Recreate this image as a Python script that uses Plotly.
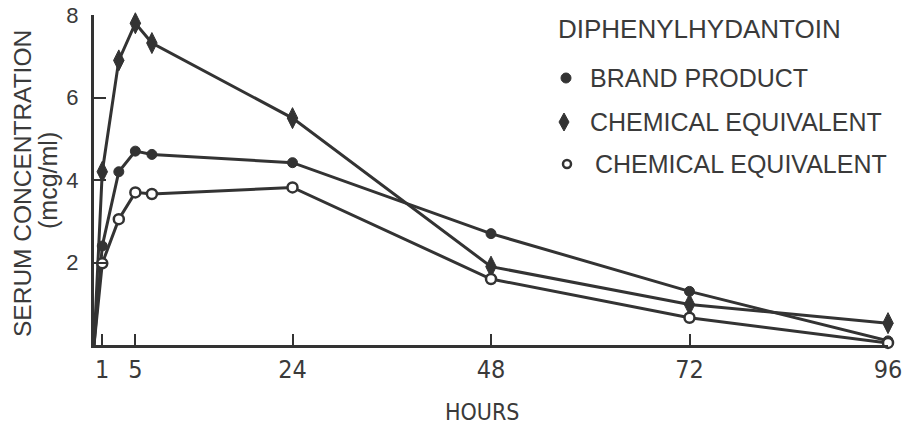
import plotly.graph_objects as go

# ---- data ----
hours = [0, 1, 3, 5, 7, 24, 48, 72, 96]
brand_product = [0, 2.4, 4.2, 4.7, 4.62, 4.42, 2.7, 1.3, 0.1]
chem_equiv_diamond = [0, 4.2, 6.9, 7.8, 7.32, 5.5, 1.9, 0.98, 0.53]
chem_equiv_open = [0, 1.98, 3.05, 3.7, 3.66, 3.82, 1.6, 0.66, 0.05]

x_ticks = [1, 5, 24, 48, 72, 96]
y_ticks = [2, 4, 6, 8]

legend_title = "DIPHENYLHYDANTOIN"
legend_labels = ["BRAND PRODUCT", "CHEMICAL EQUIVALENT", "CHEMICAL EQUIVALENT"]

# ---- styling ----
W, H = 907, 429
ML, MR, MT, MB = 94, 19, 15, 84
PW, PH = W - ML - MR, H - MT - MB
INK = "#333333"
TXT = "#3a3a3a"
LW = 3
COND = "DejaVu Sans Condensed, Liberation Sans, sans-serif"


def px(xp):
    return (xp - ML) / PW


def py(yp):
    return (H - MB - yp) / PH


def sizes(n, s):
    return [0] + [s] * (n - 1)


fig = go.Figure()

fig.add_trace(go.Scatter(
    x=hours, y=brand_product, mode="lines+markers",
    line=dict(color=INK, width=LW),
    marker=dict(symbol="circle", size=sizes(len(hours), 10), color=INK, opacity=1,
                line=dict(color=INK, width=1)),
    cliponaxis=False, showlegend=False))

fig.add_trace(go.Scatter(
    x=hours, y=chem_equiv_diamond, mode="lines+markers",
    line=dict(color=INK, width=LW),
    marker=dict(symbol="diamond-tall", size=sizes(len(hours), 15), color=INK, opacity=1,
                line=dict(color=INK, width=1)),
    cliponaxis=False, showlegend=False))

fig.add_trace(go.Scatter(
    x=hours, y=chem_equiv_open, mode="lines+markers",
    line=dict(color=INK, width=LW),
    marker=dict(symbol="circle", size=sizes(len(hours), 10), color="white", opacity=1,
                line=dict(color=INK, width=2.5)),
    cliponaxis=False, showlegend=False))

# legend markers drawn as shapes in paper coordinates
shapes = []
r = 5
shapes.append(dict(type="circle", xref="paper", yref="paper",
                   x0=px(566 - r), x1=px(566 + r), y0=py(78 + r), y1=py(78 - r),
                   fillcolor=INK, line=dict(color=INK, width=1)))
dx, dy = 564, 122
shapes.append(dict(type="path", xref="paper", yref="paper",
                   path=f"M {px(dx)} {py(dy - 9)} L {px(dx + 5)} {py(dy)} "
                        f"L {px(dx)} {py(dy + 9)} L {px(dx - 5)} {py(dy)} Z",
                   fillcolor=INK, line=dict(color=INK, width=1)))
r2 = 4
shapes.append(dict(type="circle", xref="paper", yref="paper",
                   x0=px(567 - r2), x1=px(567 + r2), y0=py(164 + r2), y1=py(164 - r2),
                   fillcolor="white", line=dict(color=INK, width=2.5)))

annotations = []
annotations.append(dict(
    x=px(556), y=py(29), xref="paper", yref="paper", text=legend_title,
    showarrow=False, xanchor="left", yanchor="middle",
    font=dict(family="Liberation Sans", size=26, color=TXT)))
for lab, xs, ys in zip(legend_labels, [588, 588, 593], [78, 122, 164]):
    annotations.append(dict(
        x=px(xs), y=py(ys), xref="paper", yref="paper", text=lab,
        showarrow=False, xanchor="left", yanchor="middle",
        font=dict(family="Liberation Sans", size=25, color=TXT)))

annotations.append(dict(
    x=px(22), y=py(184), xref="paper", yref="paper", text="SERUM CONCENTRATION",
    showarrow=False, textangle=-90, xanchor="center", yanchor="middle",
    font=dict(family="Liberation Sans", size=24.5, color=TXT)))
annotations.append(dict(
    x=px(48), y=py(181), xref="paper", yref="paper", text="(mcg/ml)",
    showarrow=False, textangle=-90, xanchor="center", yanchor="middle",
    font=dict(family="Liberation Sans", size=25, color=TXT)))
annotations.append(dict(
    x=px(482), y=py(412), xref="paper", yref="paper", text="HOURS",
    showarrow=False, xanchor="center", yanchor="middle",
    font=dict(family=COND, size=23, color=TXT)))

fig.update_layout(
    width=W, height=H,
    margin=dict(l=ML, r=MR, t=MT, b=MB, autoexpand=False),
    paper_bgcolor="white", plot_bgcolor="white",
    xaxis=dict(range=[0, 96], tickvals=x_ticks, ticktext=[str(v) for v in x_ticks],
               automargin=False,
               showgrid=False, zeroline=False, showline=True, linecolor=INK,
               linewidth=LW, ticks="inside", ticklen=11, tickwidth=2, tickcolor=INK,
               ticklabelstandoff=0,
               tickfont=dict(family=COND, size=25, color=TXT)),
    yaxis=dict(range=[0, 8], tickvals=y_ticks, ticktext=[str(v) for v in y_ticks],
               automargin=False,
               showgrid=False, zeroline=False, showline=True, linecolor=INK,
               linewidth=LW, ticks="inside", ticklen=12, tickwidth=2, tickcolor=INK,
               ticklabelstandoff=8,
               tickfont=dict(family="Liberation Sans", size=22, color=TXT)),
    annotations=annotations,
    shapes=shapes,
)

fig.write_html("out.html")
